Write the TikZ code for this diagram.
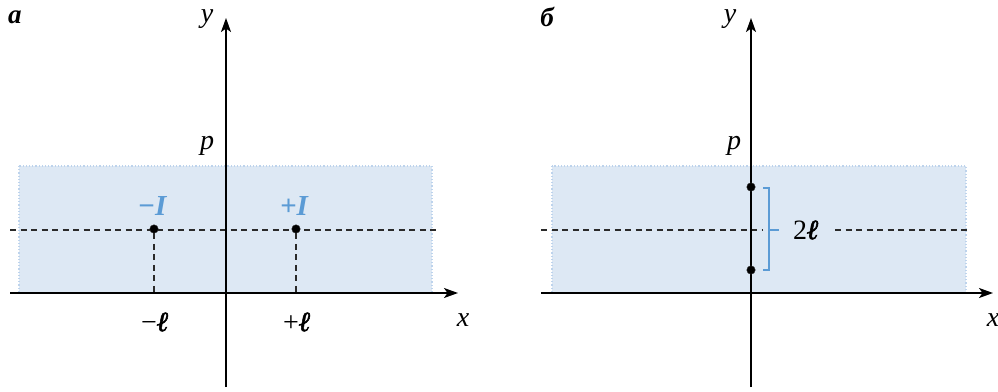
\documentclass[tikz,border=0pt]{standalone}
\usepackage{fontspec}
\setmainfont{Liberation Serif}
\newfontface\ellface{Liberation Serif Bold Italic}[FakeBold=2]
\usetikzlibrary{arrows.meta}
\definecolor{shade}{HTML}{DDE8F4}
\definecolor{shadeedge}{HTML}{BDD3EC}
\definecolor{lblue}{HTML}{5B9BD5}
\definecolor{dash}{HTML}{2A2A2A}
\newcommand{\ellb}{{\ellface ℓ}}
\tikzset{
  axis/.style={line width=1.5pt,-{Stealth[length=14pt,width=10pt,inset=3.5pt]}},
  region/.style={fill=shade,draw=shadeedge,dotted,line width=1.2pt},
  dline/.style={draw=dash,line width=1.4pt,dash pattern=on 6pt off 4.5pt},
  dot/.style={circle,fill=black,draw=dash,inner sep=0pt,minimum size=8.5pt},
  lab/.style={font=\fontsize{28}{28}\selectfont\itshape,inner sep=0pt},
  num/.style={font=\fontsize{28}{28}\selectfont,inner sep=0pt},
  panel/.style={font=\fontsize{27}{27}\selectfont\bfseries\itshape,inner sep=0pt},
  blab/.style={font=\fontsize{29}{29}\selectfont\bfseries\itshape,text=lblue,inner sep=0pt},
}
\begin{document}
\begin{tikzpicture}[x=1pt,y=-1pt]
\useasboundingbox (0,0) rectangle (998,391);
% ---------- panel a ----------
\node[panel] (pa) at (15,17) {а};
\path[region] (19,166) rectangle (432,293);
\coordinate (a-dl) at (10,230);
\coordinate (a-dr) at (440,230);
\draw[dline] (a-dl) -- (a-dr);
\coordinate (a-xl) at (10,293);
\coordinate (a-xr) at (458,293);
\coordinate (a-yb) at (226,387);
\coordinate (a-yt) at (226,18);
\draw[axis] (a-xl) -- (a-xr);
\draw[axis] (a-yb) -- (a-yt);
\node[dot] (m) at (154,229) {};
\node[dot] (pl) at (296,229) {};
\coordinate (mb) at (154,293);
\coordinate (pb) at (296,293);
\draw[dline] (m) -- (mb);
\draw[dline] (pl) -- (pb);
\node[blab] (mI) at (152,206) {−I};
\node[blab] (pI) at (294,206) {+I};
\node[num] (ml) at (155,322) {−\ellb};
\node[num] (pll) at (297,322) {+\ellb};
\node[lab] (ap) at (207,146) {p};
\node[lab] (ay) at (207,19) {y};
\node[lab] (ax) at (463,320) {x};
% ---------- panel b ----------
\node[panel] (pb2) at (547,17) {б};
\path[region] (552,166) rectangle (966,293);
\coordinate (b-dl) at (541,230);
\coordinate (b-dm1) at (763,230);
\coordinate (b-dm2) at (835,230);
\coordinate (b-dr) at (971,230);
\draw[dline] (b-dl) -- (b-dm1);
\draw[dline] (b-dm2) -- (b-dr);
\coordinate (b-xl) at (541,293);
\coordinate (b-xr) at (993,293);
\coordinate (b-yb) at (751,387);
\coordinate (b-yt) at (751,18);
\draw[axis] (b-xl) -- (b-xr);
\draw[axis] (b-yb) -- (b-yt);
\node[dot] (d1) at (751,187) {};
\node[dot] (d2) at (751,270) {};
\coordinate (br1) at (763,188);
\coordinate (br2) at (763,270);
\coordinate (brm) at (769,230);
\coordinate (brt) at (779,230);
\draw[lblue,line width=1.5pt] (br1) -- ++(6,0) |- (br2);
\draw[lblue,line width=1.5pt] (brm) -- (brt);
\node[num] (tl) at (806,230) {2\ellb};
\node[lab] (bp) at (734,146) {p};
\node[lab] (by) at (730,19) {y};
\node[lab] (bx) at (993,320) {x};
\end{tikzpicture}
\end{document}
